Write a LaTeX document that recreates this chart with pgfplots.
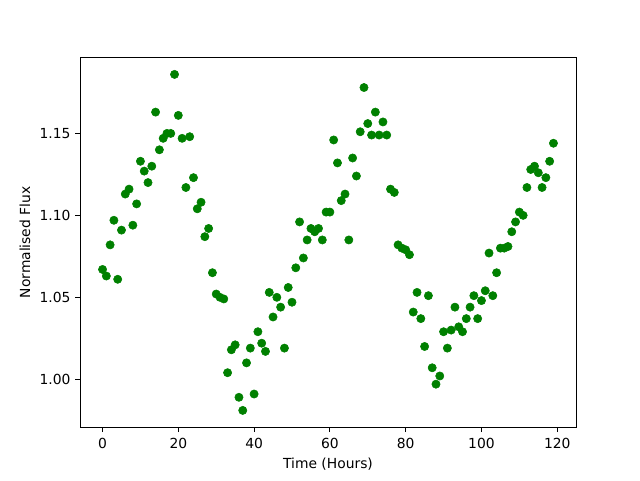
\documentclass[border=0pt]{standalone}
\usepackage{fontspec}
\setmainfont{DejaVu Sans}
\usepackage{pgfplots}
\pgfplotsset{compat=1.18}
\definecolor{mplgreen}{HTML}{008000}
\begin{document}
\begin{tikzpicture}[font=\fontsize{10.4}{12.5}\selectfont]
\path[use as bounding box] (-60pt,-39.6pt) rectangle (420pt,320.4pt);
\begin{axis}[at={(0,0)}, anchor=south west, scale only axis,
  width=372pt, height=277.2pt,
  xmin=-5.95, xmax=124.95, ymin=0.97075, ymax=1.19625,
  xtick={0,20,...,120}, ytick={1.00,1.05,1.10,1.15},
  /pgf/number format/assume math mode=true,
  yticklabel style={/pgf/number format/.cd,fixed,fixed zerofill,precision=2},
  tick pos=left, tick align=outside, major tick length=3.65pt,
  every tick/.style={black, line width=0.6pt},
  axis line style={line width=0.6pt},
  xticklabel style={yshift=-1pt},
  xlabel={Time (Hours)}, ylabel={Normalised Flux},
  ]
\addplot[only marks, mark=*, mark size=3.1pt, mplgreen, mark options={draw=mplgreen, fill=mplgreen}] table[row sep=\\] {
x y\\
0 1.067\\ 1 1.063\\ 2 1.082\\ 3 1.097\\ 4 1.061\\ 5 1.091\\ 6 1.113\\ 7 1.116\\ 8 1.094\\ 9 1.107\\
10 1.133\\ 11 1.127\\ 12 1.120\\ 13 1.130\\ 14 1.163\\ 15 1.140\\ 16 1.147\\ 17 1.150\\ 18 1.150\\ 19 1.186\\
20 1.161\\ 21 1.147\\ 22 1.117\\ 23 1.148\\ 24 1.123\\ 25 1.104\\ 26 1.108\\ 27 1.087\\ 28 1.092\\ 29 1.065\\
30 1.052\\ 31 1.050\\ 32 1.049\\ 33 1.004\\ 34 1.018\\ 35 1.021\\ 36 0.989\\ 37 0.981\\ 38 1.010\\ 39 1.019\\
40 0.991\\ 41 1.029\\ 42 1.022\\ 43 1.017\\ 44 1.053\\ 45 1.038\\ 46 1.050\\ 47 1.044\\ 48 1.019\\ 49 1.056\\
50 1.047\\ 51 1.068\\ 52 1.096\\ 53 1.074\\ 54 1.085\\ 55 1.092\\ 56 1.090\\ 57 1.092\\ 58 1.085\\ 59 1.102\\
60 1.102\\ 61 1.146\\ 62 1.132\\ 63 1.109\\ 64 1.113\\ 65 1.085\\ 66 1.135\\ 67 1.124\\ 68 1.151\\ 69 1.178\\
70 1.156\\ 71 1.149\\ 72 1.163\\ 73 1.149\\ 74 1.157\\ 75 1.149\\ 76 1.116\\ 77 1.114\\ 78 1.082\\ 79 1.080\\
80 1.079\\ 81 1.076\\ 82 1.041\\ 83 1.053\\ 84 1.037\\ 85 1.020\\ 86 1.051\\ 87 1.007\\ 88 0.997\\ 89 1.002\\
90 1.029\\ 91 1.019\\ 92 1.030\\ 93 1.044\\ 94 1.032\\ 95 1.029\\ 96 1.037\\ 97 1.044\\ 98 1.051\\ 99 1.037\\
100 1.048\\ 101 1.054\\ 102 1.077\\ 103 1.051\\ 104 1.065\\ 105 1.080\\ 106 1.080\\ 107 1.081\\ 108 1.090\\ 109 1.096\\
110 1.102\\ 111 1.100\\ 112 1.117\\ 113 1.128\\ 114 1.130\\ 115 1.126\\ 116 1.117\\ 117 1.123\\ 118 1.133\\ 119 1.144\\
};
\end{axis}
\end{tikzpicture}
\end{document}
